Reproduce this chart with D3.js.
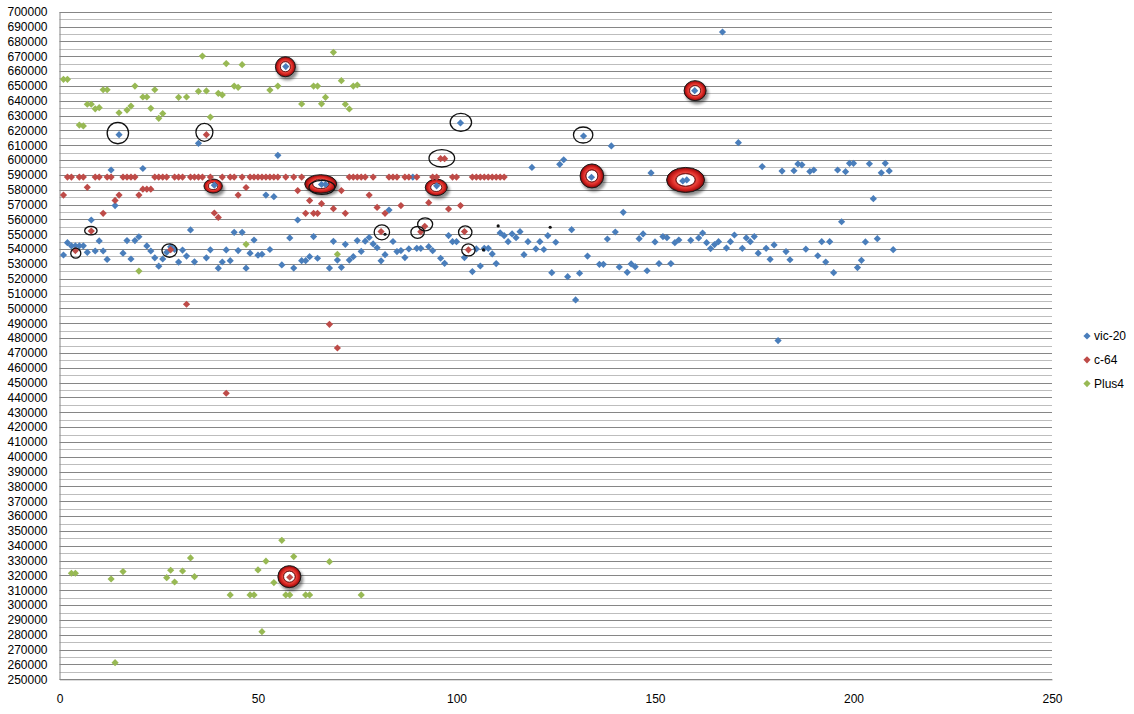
<!DOCTYPE html>
<html><head><meta charset="utf-8">
<script src="https://cdn.jsdelivr.net/npm/d3@7/dist/d3.min.js"></script>
<style>
body{margin:0;background:#fff}
svg{display:block}
text{font-family:"Liberation Sans",Arial,sans-serif;font-size:12px;fill:#000}
</style>
</head><body>
<svg id="chart" width="1134" height="714"></svg>
<script>
// ---------- DATA ----------
const seriesNames = ["vic-20", "c-64", "Plus4"];
const xTickLabels = [0, 50, 100, 150, 200, 250];
const yTickLabels = [250000,260000,270000,280000,290000,300000,310000,320000,330000,340000,350000,360000,370000,380000,390000,400000,410000,420000,430000,440000,450000,460000,470000,480000,490000,500000,510000,520000,530000,540000,550000,560000,570000,580000,590000,600000,610000,620000,630000,640000,650000,660000,670000,680000,690000,700000];

const vic20 = [
[1,536000],[2,544300],[3,542200],[4,542200],[5,542200],[6,542200],[7,537800],[8,559600],[9,538700],[10,545500],
[11,538700],[12,533000],[13,593300],[14,569300],[15,617100],[16,537200],[17,545700],[18,533300],[19,545700],[20,548300],
[21,594300],[22,542100],[23,538700],[24,534100],[25,528500],[26,533300],[27,537800],[28,541500],[29,539700],[30,531200],
[31,539300],[32,535300],[33,552900],[34,531400],[35,611300],[37,534100],[38,539500],[39,583100],[40,527100],
[41,531300],[42,539400],[43,532200],[44,551300],[45,539000],[46,551300],[47,527100],[48,537200],[49,546100],[50,535900],
[51,536500],[52,576400],[53,539700],[54,575300],[55,603200],[56,529300],[57,663000],[58,547500],[59,527200],[60,559600],
[61,532200],[62,532200],[63,534900],[64,548400],[65,533800],[66,583600],[67,583600],[68,527200],[69,545200],[70,532600],
[71,527700],[72,543200],[73,532600],[74,534900],[75,545700],[76,538400],[77,545300],[78,547800],[79,543500],[80,540900],
[81,532100],[82,536200],[83,566300],[84,545100],[85,538300],[86,539000],[87,534300],[88,540100],[89,588500],[90,540500],
[91,540500],[93,541600],[94,538900],[95,582600],[96,533800],[97,530400],[98,549100],[99,545000],[100,545000],
[101,625000],[102,534300],[104,524800],[105,540100],[106,528600],[107,540500],[108,540500],[109,536700],[110,530200],
[111,550900],[112,549000],[113,545000],[114,550200],[115,547700],[116,551700],[117,536200],[118,545000],[119,595000],[120,540100],
[121,545000],[122,539700],[123,549000],[124,524100],[125,544600],[126,597100],[127,600200],[128,521400],[129,553100],[130,505700],
[131,523700],[132,616200],[133,535300],[134,588400],[136,529700],[137,529700],[138,546800],[139,609500],[140,551500],
[141,527900],[142,564800],[143,524300],[144,530000],[145,528100],[146,547000],[147,550200],[148,525400],[149,591300],[150,544800],
[151,530200],[152,548400],[153,547700],[154,530200],[155,544300],[156,546100],[157,585900],[158,586600],[159,545900],[160,646800],
[161,547500],[162,550800],[163,544300],[164,540300],[165,543000],[166,545000],[167,686300],[168,540700],[169,545000],[170,549500],
[171,611700],[172,540500],[173,547500],[174,545000],[175,548400],[176,537200],[177,595600],[178,540500],[179,533100],[180,542800],
[181,478300],[182,592600],[183,538300],[184,532800],[185,592800],[186,597400],[187,596800],[188,539900],[189,592300],[190,593300],
[191,535500],[192,545000],[193,531300],[194,545000],[195,524100],[196,593300],[197,558400],[198,592200],[199,597800],[200,597800],
[201,527500],[202,532400],[203,544800],[204,597500],[205,574000],[206,547000],[207,591400],[208,597800],[209,592700],[210,539600]
];

const c64 = [
[1,576400],[2,588500],[3,588500],[4,539000],[5,588500],[6,588500],[7,581600],[8,552100],[9,588500],[10,588500],
[11,564100],[12,588500],[13,588500],[14,572800],[15,576400],[16,588500],[17,588500],[18,588500],[19,588500],[20,576400],
[21,580400],[22,580400],[23,580400],[24,588500],[25,588500],[26,588500],[27,588500],[28,539600],[29,588500],[30,588500],
[31,588500],[32,502800],[33,588500],[34,588500],[35,588500],[36,588500],[37,617100],[38,588500],[39,564300],[40,561300],
[41,588500],[42,442800],[43,588500],[44,588500],[45,576400],[46,588500],[47,581500],[48,588500],[49,588500],[50,588500],
[51,588500],[52,588500],[53,588500],[54,588500],[55,588500],[57,588500],[58,318800],[59,588500],[60,579400],
[61,588500],[62,564100],[63,572700],[64,564100],[65,564100],[66,570600],[68,489300],[69,567200],[70,473300],
[71,579400],[72,564100],[73,588500],[74,588500],[75,588500],[76,588500],[77,588500],[78,576400],[79,588500],[80,568100],
[81,551800],[82,564100],[83,588500],[84,588500],[85,588500],[86,569300],[87,588500],[88,588500],[90,588500],
[91,551600],[92,555300],[93,571300],[94,588500],[95,588500],[96,600900],[97,600900],[98,567000],[99,588500],[100,588500],
[101,569300],[102,551800],[103,539500],[104,588500],[105,588500],[106,588500],[107,588500],[108,588500],[109,588500],[110,588500],
[111,588500],[112,588500]
];

const plus4 = [
[1,654400],[2,654400],[3,321500],[4,321500],[5,623600],[6,623000],[7,637600],[8,637600],[9,634500],[10,635300],
[11,647400],[12,647400],[13,317600],[14,261200],[15,631900],[16,322600],[17,633700],[18,636400],[19,649900],[20,525200],
[21,642500],[22,642500],[23,634900],[24,647400],[25,628100],[26,631300],[27,318500],[28,323500],[29,315600],[30,642300],
[31,323000],[32,642500],[33,331800],[34,319200],[35,646300],[36,670100],[37,646600],[38,629000],[40,645000],
[41,643900],[42,665000],[43,306900],[44,649900],[45,649000],[46,664300],[47,543200],[48,306900],[49,306900],[50,323700],
[51,282100],[52,329600],[53,647200],[54,315200],[55,649900],[56,343700],[57,306900],[58,306900],[59,332700],
[61,637800],[62,306900],[63,306900],[64,649900],[65,649900],[66,637900],[67,642300],[68,329300],[69,672600],[70,536500],
[71,653500],[72,637600],[73,634400],[74,649900],[75,650600],[76,306900]
];

// hand-drawn highlights on the original chart (data coordinates)
const ringMarks = [[56.9,662900],[38.7,582500],[65.8,583900],[94.9,581600],[134.1,589300],[157.7,586600],[160.1,646800],[57.9,319200]];
const circleMarks = [[14.7,618200],[36.5,618700],[101.1,625400],[96.3,601200],[131.9,616900],[7.9,552400],[4.1,537200],[27.7,539000],[81.2,551300],[90.2,551300],[92.1,556700],[102.2,551300],[103,539400],[66.1,581600]];
const dotMarks = [[82,550000],[110.5,555600],[123.6,554700],[106.8,539400]];

// ---------- STYLE / LAYOUT ----------
const colors = ["#4a7ebb", "#be4b48", "#98b954"];
const ringSize = [[10,10],[9.2,7],[16,9.3],[11,8.3],[11.8,12],[19,12.5],[11,10],[11.5,11]];
const circleSize = [[10.7,10.7],[8.5,9],[10.7,9],[12.8,8.7],[9.7,8],[6.2,4.3],[5,5],[7.5,6.7],[7.7,7.5],[6.7,6],[7.5,6.5],[6.7,6.5],[6.7,6],[13,7]];

const svg = d3.select("#chart");
const x = d3.scaleLinear().domain([0, 250]).range([59.5, 1052]);
const y = d3.scaleLinear().domain([250000, 700000]).range([679.3, 11.7]);

const defs = svg.append("defs");
const rg = defs.append("radialGradient").attr("id", "torus");
[[0,"#7a0a0a"],[0.48,"#8c0d0d"],[0.58,"#e8463e"],[0.72,"#dc2a25"],[0.88,"#b31414"],[1,"#6e0606"]]
  .forEach(([o, c]) => rg.append("stop").attr("offset", o).attr("stop-color", c));
const f = defs.append("filter").attr("id", "blur").attr("x", "-50%").attr("y", "-50%").attr("width", "200%").attr("height", "200%");
f.append("feGaussianBlur").attr("stdDeviation", 1.6);

// minor gridlines (every 5000)
const minor = d3.range(255000, 700000, 10000);
svg.append("g").selectAll("line").data(minor).join("line")
  .attr("x1", x(0)).attr("x2", x(250))
  .attr("y1", d => Math.round(y(d)) + 0.5).attr("y2", d => Math.round(y(d)) + 0.5)
  .attr("stroke", "#bdbdbd").attr("stroke-width", 1);

// y axis with major gridlines
const yAxis = d3.axisLeft(y).tickValues(yTickLabels).tickFormat(d3.format("d")).tickSize(0).tickPadding(12);
const gy = svg.append("g").attr("transform", `translate(${x(0)},0)`).call(yAxis);
gy.select(".domain").attr("stroke", "#868686");
gy.selectAll("text").style("font-family", '"Liberation Sans",Arial,sans-serif').style("font-size", "12px").attr("fill", "#000");
svg.append("g").selectAll("line").data(yTickLabels).join("line")
  .attr("x1", x(0)).attr("x2", x(250))
  .attr("y1", d => Math.round(y(d)) + 0.5).attr("y2", d => Math.round(y(d)) + 0.5)
  .attr("stroke", "#868686").attr("stroke-width", 1);

// x axis
const xAxis = d3.axisBottom(x).tickValues(xTickLabels).tickFormat(d3.format("d")).tickSize(0).tickPadding(15);
const gx = svg.append("g").attr("transform", `translate(0,${y(250000)})`).call(xAxis);
gx.select(".domain").attr("stroke", "#868686");
gx.selectAll("text").style("font-family", '"Liberation Sans",Arial,sans-serif').style("font-size", "12px").attr("fill", "#000");

// red 3D ring highlights
const rings = svg.append("g");
ringMarks.forEach((p, i) => {
  const cx = x(p[0]), cy = y(p[1]), rx = ringSize[i][0], ry = ringSize[i][1];
  rings.append("ellipse").attr("cx", cx + 2).attr("cy", cy + 3).attr("rx", rx + 0.5).attr("ry", ry + 0.5)
    .attr("fill", "#000").attr("opacity", 0.45).attr("filter", "url(#blur)");
  rings.append("ellipse").attr("cx", cx).attr("cy", cy).attr("rx", rx).attr("ry", ry)
    .attr("fill", "url(#torus)").attr("stroke", "#1a1a1a").attr("stroke-width", 1);
  rings.append("ellipse").attr("cx", cx).attr("cy", cy).attr("rx", rx * 0.5).attr("ry", ry * 0.5)
    .attr("fill", "#fff").attr("stroke", "#5a0505").attr("stroke-width", 0.8);
});

// markers
const diamond = "M0,-3.6L3.6,0L0,3.6L-3.6,0Z";
[vic20, c64, plus4].forEach((data, i) => {
  svg.append("g").selectAll("path").data(data).join("path")
    .attr("d", diamond)
    .attr("transform", d => `translate(${x(d[0])},${y(d[1])})`)
    .attr("fill", colors[i]);
});

// black circle highlights
svg.append("g").selectAll("ellipse").data(circleMarks).join("ellipse")
  .attr("cx", d => x(d[0])).attr("cy", d => y(d[1]))
  .attr("rx", (d, i) => circleSize[i][0]).attr("ry", (d, i) => circleSize[i][1])
  .attr("fill", "none").attr("stroke", "#111").attr("stroke-width", 1.3);

svg.append("g").selectAll("circle").data(dotMarks).join("circle")
  .attr("cx", d => x(d[0])).attr("cy", d => y(d[1])).attr("r", 1.6).attr("fill", "#111");

// legend
const lg = svg.append("g").attr("transform", "translate(1087,336)");
seriesNames.forEach((name, i) => {
  const g = lg.append("g").attr("transform", `translate(0,${i * 23.8})`);
  g.append("path").attr("d", diamond).attr("fill", colors[i]);
  g.append("text").attr("x", 7).attr("y", 4.3).text(name);
});
</script>
</body></html>
